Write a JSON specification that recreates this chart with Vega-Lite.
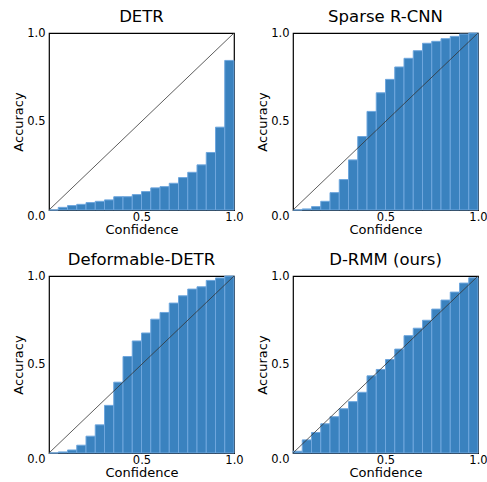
{
  "$schema": "https://vega.github.io/schema/vega-lite/v6.json",
  "background": "white",
  "padding": {"left": 12, "top": 7, "right": 8, "bottom": 1},
  "datasets": {
    "calib": [
      {"model": "DETR", "lo": 0.00, "hi": 0.05, "acc": 0.0},
      {"model": "DETR", "lo": 0.05, "hi": 0.10, "acc": 0.015},
      {"model": "DETR", "lo": 0.10, "hi": 0.15, "acc": 0.025},
      {"model": "DETR", "lo": 0.15, "hi": 0.20, "acc": 0.032},
      {"model": "DETR", "lo": 0.20, "hi": 0.25, "acc": 0.042},
      {"model": "DETR", "lo": 0.25, "hi": 0.30, "acc": 0.049},
      {"model": "DETR", "lo": 0.30, "hi": 0.35, "acc": 0.057},
      {"model": "DETR", "lo": 0.35, "hi": 0.40, "acc": 0.075},
      {"model": "DETR", "lo": 0.40, "hi": 0.45, "acc": 0.075},
      {"model": "DETR", "lo": 0.45, "hi": 0.50, "acc": 0.087},
      {"model": "DETR", "lo": 0.50, "hi": 0.55, "acc": 0.104},
      {"model": "DETR", "lo": 0.55, "hi": 0.60, "acc": 0.125},
      {"model": "DETR", "lo": 0.60, "hi": 0.65, "acc": 0.132},
      {"model": "DETR", "lo": 0.65, "hi": 0.70, "acc": 0.151},
      {"model": "DETR", "lo": 0.70, "hi": 0.75, "acc": 0.183},
      {"model": "DETR", "lo": 0.75, "hi": 0.80, "acc": 0.213},
      {"model": "DETR", "lo": 0.80, "hi": 0.85, "acc": 0.255},
      {"model": "DETR", "lo": 0.85, "hi": 0.90, "acc": 0.325},
      {"model": "DETR", "lo": 0.90, "hi": 0.95, "acc": 0.468},
      {"model": "DETR", "lo": 0.95, "hi": 1.00, "acc": 0.845},
      {"model": "Sparse R-CNN", "lo": 0.00, "hi": 0.05, "acc": 0.0},
      {"model": "Sparse R-CNN", "lo": 0.05, "hi": 0.10, "acc": 0.006},
      {"model": "Sparse R-CNN", "lo": 0.10, "hi": 0.15, "acc": 0.019},
      {"model": "Sparse R-CNN", "lo": 0.15, "hi": 0.20, "acc": 0.049},
      {"model": "Sparse R-CNN", "lo": 0.20, "hi": 0.25, "acc": 0.098},
      {"model": "Sparse R-CNN", "lo": 0.25, "hi": 0.30, "acc": 0.172},
      {"model": "Sparse R-CNN", "lo": 0.30, "hi": 0.35, "acc": 0.283},
      {"model": "Sparse R-CNN", "lo": 0.35, "hi": 0.40, "acc": 0.415},
      {"model": "Sparse R-CNN", "lo": 0.40, "hi": 0.45, "acc": 0.557},
      {"model": "Sparse R-CNN", "lo": 0.45, "hi": 0.50, "acc": 0.662},
      {"model": "Sparse R-CNN", "lo": 0.50, "hi": 0.55, "acc": 0.738},
      {"model": "Sparse R-CNN", "lo": 0.55, "hi": 0.60, "acc": 0.808},
      {"model": "Sparse R-CNN", "lo": 0.60, "hi": 0.65, "acc": 0.857},
      {"model": "Sparse R-CNN", "lo": 0.65, "hi": 0.70, "acc": 0.900},
      {"model": "Sparse R-CNN", "lo": 0.70, "hi": 0.75, "acc": 0.942},
      {"model": "Sparse R-CNN", "lo": 0.75, "hi": 0.80, "acc": 0.953},
      {"model": "Sparse R-CNN", "lo": 0.80, "hi": 0.85, "acc": 0.968},
      {"model": "Sparse R-CNN", "lo": 0.85, "hi": 0.90, "acc": 0.981},
      {"model": "Sparse R-CNN", "lo": 0.90, "hi": 0.95, "acc": 0.994},
      {"model": "Sparse R-CNN", "lo": 0.95, "hi": 1.00, "acc": 1.0},
      {"model": "Deformable-DETR", "lo": 0.00, "hi": 0.05, "acc": 0.0},
      {"model": "Deformable-DETR", "lo": 0.05, "hi": 0.10, "acc": 0.006},
      {"model": "Deformable-DETR", "lo": 0.10, "hi": 0.15, "acc": 0.017},
      {"model": "Deformable-DETR", "lo": 0.15, "hi": 0.20, "acc": 0.044},
      {"model": "Deformable-DETR", "lo": 0.20, "hi": 0.25, "acc": 0.095},
      {"model": "Deformable-DETR", "lo": 0.25, "hi": 0.30, "acc": 0.159},
      {"model": "Deformable-DETR", "lo": 0.30, "hi": 0.35, "acc": 0.269},
      {"model": "Deformable-DETR", "lo": 0.35, "hi": 0.40, "acc": 0.400},
      {"model": "Deformable-DETR", "lo": 0.40, "hi": 0.45, "acc": 0.545},
      {"model": "Deformable-DETR", "lo": 0.45, "hi": 0.50, "acc": 0.633},
      {"model": "Deformable-DETR", "lo": 0.50, "hi": 0.55, "acc": 0.678},
      {"model": "Deformable-DETR", "lo": 0.55, "hi": 0.60, "acc": 0.756},
      {"model": "Deformable-DETR", "lo": 0.60, "hi": 0.65, "acc": 0.794},
      {"model": "Deformable-DETR", "lo": 0.65, "hi": 0.70, "acc": 0.847},
      {"model": "Deformable-DETR", "lo": 0.70, "hi": 0.75, "acc": 0.888},
      {"model": "Deformable-DETR", "lo": 0.75, "hi": 0.80, "acc": 0.926},
      {"model": "Deformable-DETR", "lo": 0.80, "hi": 0.85, "acc": 0.939},
      {"model": "Deformable-DETR", "lo": 0.85, "hi": 0.90, "acc": 0.975},
      {"model": "Deformable-DETR", "lo": 0.90, "hi": 0.95, "acc": 0.989},
      {"model": "Deformable-DETR", "lo": 0.95, "hi": 1.00, "acc": 1.0},
      {"model": "D-RMM (ours)", "lo": 0.00, "hi": 0.05, "acc": 0.01},
      {"model": "D-RMM (ours)", "lo": 0.05, "hi": 0.10, "acc": 0.074},
      {"model": "D-RMM (ours)", "lo": 0.10, "hi": 0.15, "acc": 0.116},
      {"model": "D-RMM (ours)", "lo": 0.15, "hi": 0.20, "acc": 0.165},
      {"model": "D-RMM (ours)", "lo": 0.20, "hi": 0.25, "acc": 0.205},
      {"model": "D-RMM (ours)", "lo": 0.25, "hi": 0.30, "acc": 0.250},
      {"model": "D-RMM (ours)", "lo": 0.30, "hi": 0.35, "acc": 0.290},
      {"model": "D-RMM (ours)", "lo": 0.35, "hi": 0.40, "acc": 0.343},
      {"model": "D-RMM (ours)", "lo": 0.40, "hi": 0.45, "acc": 0.436},
      {"model": "D-RMM (ours)", "lo": 0.45, "hi": 0.50, "acc": 0.472},
      {"model": "D-RMM (ours)", "lo": 0.50, "hi": 0.55, "acc": 0.528},
      {"model": "D-RMM (ours)", "lo": 0.55, "hi": 0.60, "acc": 0.587},
      {"model": "D-RMM (ours)", "lo": 0.60, "hi": 0.65, "acc": 0.663},
      {"model": "D-RMM (ours)", "lo": 0.65, "hi": 0.70, "acc": 0.705},
      {"model": "D-RMM (ours)", "lo": 0.70, "hi": 0.75, "acc": 0.750},
      {"model": "D-RMM (ours)", "lo": 0.75, "hi": 0.80, "acc": 0.813},
      {"model": "D-RMM (ours)", "lo": 0.80, "hi": 0.85, "acc": 0.864},
      {"model": "D-RMM (ours)", "lo": 0.85, "hi": 0.90, "acc": 0.909},
      {"model": "D-RMM (ours)", "lo": 0.90, "hi": 0.95, "acc": 0.960},
      {"model": "D-RMM (ours)", "lo": 0.95, "hi": 1.00, "acc": 0.990}
    ]
  },
  "columns": 2,
  "spacing": {"column": 59, "row": 66},
  "bounds": "flush",
  "concat": [
    {
      "title": "DETR",
      "width": 185, "height": 177,
      "layer": [
        {
          "data": {"name": "calib"},
          "transform": [{"filter": "datum.model === 'DETR'"}],
          "mark": {"type": "bar", "fill": "#3a82bf", "stroke": "#6ea6dd", "strokeWidth": 1},
          "encoding": {
            "x": {"field": "lo", "type": "quantitative", "scale": {"domain": [0, 1], "nice": false}, "axis": {"title": "Confidence", "values": [0.5, 1]}},
            "x2": {"field": "hi"},
            "y": {"field": "acc", "type": "quantitative", "scale": {"domain": [0, 1], "nice": false}, "axis": {"title": "Accuracy", "values": [0, 0.5, 1]}},
            "y2": {"datum": 0}
          }
        },
        {
          "data": {"values": [{"a": 0, "b": 1}]},
          "mark": {"type": "rule", "color": "#333333", "strokeWidth": 0.8},
          "encoding": {"x": {"field": "a", "type": "quantitative"}, "y": {"field": "a", "type": "quantitative"}, "x2": {"field": "b"}, "y2": {"field": "b"}}
        }
      ]
    },
    {
      "title": "Sparse R-CNN",
      "width": 185, "height": 177,
      "layer": [
        {
          "data": {"name": "calib"},
          "transform": [{"filter": "datum.model === 'Sparse R-CNN'"}],
          "mark": {"type": "bar", "fill": "#3a82bf", "stroke": "#6ea6dd", "strokeWidth": 1},
          "encoding": {
            "x": {"field": "lo", "type": "quantitative", "scale": {"domain": [0, 1], "nice": false}, "axis": {"title": "Confidence", "values": [0.5, 1]}},
            "x2": {"field": "hi"},
            "y": {"field": "acc", "type": "quantitative", "scale": {"domain": [0, 1], "nice": false}, "axis": {"title": "Accuracy", "values": [0, 0.5, 1]}},
            "y2": {"datum": 0}
          }
        },
        {
          "data": {"values": [{"a": 0, "b": 1}]},
          "mark": {"type": "rule", "color": "#333333", "strokeWidth": 0.8},
          "encoding": {"x": {"field": "a", "type": "quantitative"}, "y": {"field": "a", "type": "quantitative"}, "x2": {"field": "b"}, "y2": {"field": "b"}}
        }
      ]
    },
    {
      "title": "Deformable-DETR",
      "width": 185, "height": 177,
      "layer": [
        {
          "data": {"name": "calib"},
          "transform": [{"filter": "datum.model === 'Deformable-DETR'"}],
          "mark": {"type": "bar", "fill": "#3a82bf", "stroke": "#6ea6dd", "strokeWidth": 1},
          "encoding": {
            "x": {"field": "lo", "type": "quantitative", "scale": {"domain": [0, 1], "nice": false}, "axis": {"title": "Confidence", "values": [0.5, 1]}},
            "x2": {"field": "hi"},
            "y": {"field": "acc", "type": "quantitative", "scale": {"domain": [0, 1], "nice": false}, "axis": {"title": "Accuracy", "values": [0, 0.5, 1]}},
            "y2": {"datum": 0}
          }
        },
        {
          "data": {"values": [{"a": 0, "b": 1}]},
          "mark": {"type": "rule", "color": "#333333", "strokeWidth": 0.8},
          "encoding": {"x": {"field": "a", "type": "quantitative"}, "y": {"field": "a", "type": "quantitative"}, "x2": {"field": "b"}, "y2": {"field": "b"}}
        }
      ]
    },
    {
      "title": "D-RMM (ours)",
      "width": 185, "height": 177,
      "layer": [
        {
          "data": {"name": "calib"},
          "transform": [{"filter": "datum.model === 'D-RMM (ours)'"}],
          "mark": {"type": "bar", "fill": "#3a82bf", "stroke": "#6ea6dd", "strokeWidth": 1},
          "encoding": {
            "x": {"field": "lo", "type": "quantitative", "scale": {"domain": [0, 1], "nice": false}, "axis": {"title": "Confidence", "values": [0.5, 1]}},
            "x2": {"field": "hi"},
            "y": {"field": "acc", "type": "quantitative", "scale": {"domain": [0, 1], "nice": false}, "axis": {"title": "Accuracy", "values": [0, 0.5, 1]}},
            "y2": {"datum": 0}
          }
        },
        {
          "data": {"values": [{"a": 0, "b": 1}]},
          "mark": {"type": "rule", "color": "#333333", "strokeWidth": 0.8},
          "encoding": {"x": {"field": "a", "type": "quantitative"}, "y": {"field": "a", "type": "quantitative"}, "x2": {"field": "b"}, "y2": {"field": "b"}}
        }
      ]
    }
  ],
  "config": {
    "font": "DejaVu Sans",
    "view": {"stroke": "#000000", "strokeWidth": 1.2},
    "title": {"fontSize": 16.5, "fontWeight": "normal", "color": "#000000", "offset": 2},
    "axis": {
      "domain": false, "ticks": false, "grid": false, "labelFlush": false,
      "format": ".1f",
      "labelFontSize": 11.5, "labelColor": "#000000", "labelPadding": 4,
      "titleFontSize": 13, "titleFontWeight": "normal", "titleColor": "#000000", "titlePadding": 1
    },
    "axisX": {"labelPadding": 1, "titlePadding": 1},
    "axisY": {"labelBaseline": {"condition": {"test": "datum.value == 0", "value": "top"}, "value": "middle"}}
  }
}
